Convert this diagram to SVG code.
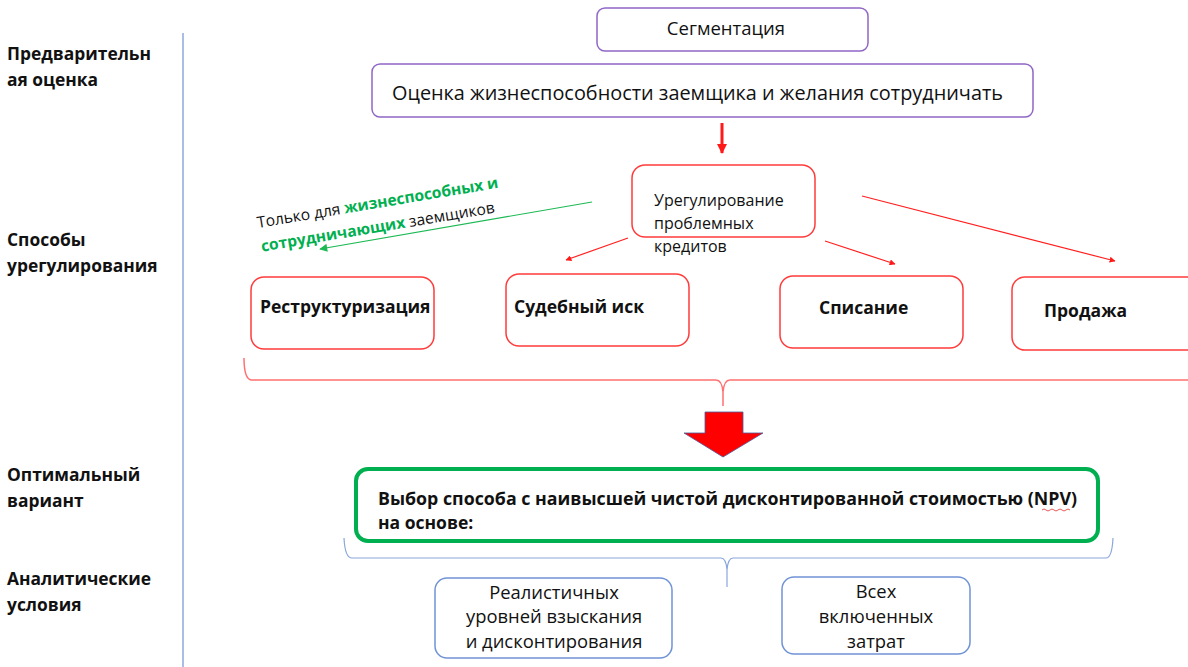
<svg xmlns="http://www.w3.org/2000/svg" width="1188" height="667" viewBox="0 0 1188 667">
<style>
text{font-family:"Open Sans","Liberation Sans",sans-serif;fill:#111}
.lbl{font-weight:bold;font-size:17.4px}
.pur{fill:#fff;stroke:#9067c6;stroke-width:1.5}
.red{fill:#fff;stroke:#ff3b3b;stroke-width:1.5}
.blu{fill:#fff;stroke:#7093d6;stroke-width:1.5}
.opt{font-weight:bold;font-size:17.5px}
.rl{stroke:#ff2020;stroke-width:1.2;fill:none}
.bt{font-size:18.4px;text-anchor:middle}
.ur{font-size:16px}
</style>
<defs>
<marker id="ah" viewBox="0 0 10 10" refX="9" refY="5" markerWidth="6" markerHeight="6" orient="auto" markerUnits="userSpaceOnUse">
<path d="M0,0 L10,5 L0,10 z" fill="#ff1a1a"/>
</marker>
<marker id="ahr" viewBox="0 0 10 10" refX="9" refY="5" markerWidth="14" markerHeight="10" orient="auto" markerUnits="userSpaceOnUse">
<path d="M0,0 L10,5 L0,10 z" fill="#ff1a1a"/>
</marker>
<marker id="ahg" viewBox="0 0 10 10" refX="9" refY="5" markerWidth="9" markerHeight="8" orient="auto" markerUnits="userSpaceOnUse">
<path d="M0,0 L10,5 L0,10 z" fill="#1db954"/>
</marker>
</defs>
<rect width="1188" height="667" fill="#fff"/>
<line x1="183" y1="33" x2="183" y2="667" stroke="#7093d6" stroke-width="1.2"/>
<g id="labels">
<text class="lbl" x="7" y="60">Предварительн</text>
<text class="lbl" x="7" y="86">ая оценка</text>
<text class="lbl" x="7" y="246">Способы</text>
<text class="lbl" x="7" y="272">урегулирования</text>
<text class="lbl" x="7" y="481">Оптимальный</text>
<text class="lbl" x="7" y="507">вариант</text>
<text class="lbl" x="7" y="585">Аналитические</text>
<text class="lbl" x="7" y="611">условия</text>
</g>
<g id="segm">
<rect class="pur" x="597" y="8" width="271" height="43" rx="8"/>
<text x="726" y="35" font-size="18.5" text-anchor="middle">Сегментация</text>
</g>
<g id="ocenka">
<rect class="pur" x="372" y="64" width="661" height="53" rx="8"/>
<text x="392" y="100" font-size="19.5" textLength="611" lengthAdjust="spacingAndGlyphs">Оценка жизнеспособности заемщика и желания сотрудничать</text>
</g>
<g id="uregul">
<rect class="red" x="632" y="165" width="183" height="72" rx="13"/>
<text class="ur" x="654" y="206">Урегулирование</text>
<text class="ur" x="654" y="229">проблемных</text>
<text class="ur" x="654" y="252">кредитов</text>
</g>
<g id="restr">
<rect class="red" x="251" y="277" width="183" height="72" rx="13"/>
<text class="opt" x="260" y="313">Реструктуризация</text>
</g>
<g id="sud">
<rect class="red" x="506" y="274" width="183" height="72" rx="13"/>
<text class="opt" x="514" y="313">Судебный иск</text>
</g>
<g id="spis">
<rect class="red" x="780" y="276" width="183" height="72" rx="13"/>
<text class="opt" x="819" y="314">Списание</text>
</g>
<g id="prod">
<rect class="red" x="1012" y="277" width="190" height="73" rx="13"/>
<text class="opt" x="1044" y="317">Продажа</text>
</g>
<g id="note" transform="rotate(-9.5 258 228)">
<text x="258" y="228" font-size="15.6">Только для <tspan fill="#00b050" font-weight="bold">жизнеспособных и</tspan></text>
<text x="258" y="252" font-size="15.6"><tspan fill="#00b050" font-weight="bold">сотрудничающих</tspan> заемщиков</text>
</g>
<g id="optimal">
<rect x="356" y="469" width="742" height="72" rx="12" fill="#fff" stroke="#00b050" stroke-width="4"/>
<text class="opt" x="378" y="505" textLength="699" lengthAdjust="spacingAndGlyphs">Выбор способа с наивысшей чистой дисконтированной стоимостью (NPV)</text>
<text class="opt" x="378" y="529">на основе:</text>
<path d="M1042,510 q2,-2 4,0 t4,0 t4,0 t4,0 t4,0 t4,0 t4,0" fill="none" stroke="#e03030" stroke-width="0.8"/>
</g>
<g id="real">
<rect class="blu" x="435" y="578" width="237" height="80" rx="12"/>
<text class="bt" x="554" y="599">Реалистичных</text>
<text class="bt" x="554" y="623">уровней взыскания</text>
<text class="bt" x="554" y="648">и дисконтирования</text>
</g>
<g id="vseh">
<rect class="blu" x="782" y="577" width="188" height="77" rx="12"/>
<text class="bt" x="876" y="598">Всех</text>
<text class="bt" x="876" y="623">включенных</text>
<text class="bt" x="876" y="648">затрат</text>
</g>
<g id="connectors">
<line x1="722" y1="123" x2="722" y2="153" stroke="#ff1a1a" stroke-width="3" marker-end="url(#ahr)"/>
<line class="rl" x1="628" y1="238" x2="566" y2="260" marker-end="url(#ah)"/>
<line class="rl" x1="825" y1="241" x2="895" y2="264" marker-end="url(#ah)"/>
<line class="rl" x1="862" y1="196" x2="1115" y2="261" marker-end="url(#ah)"/>
<line x1="592" y1="202" x2="320" y2="249" stroke="#1db954" stroke-width="1.2" marker-end="url(#ahg)"/>
<path d="M244,358 Q244,380 252,380 L716,380 Q722,380 723,392 L723,406 M723,392 Q724,380 730,380 L1188,380" fill="none" stroke="#ff7070" stroke-width="1.5"/>
<path d="M705,412 L743,412 L743,433 L763,433 L723,457 L684,433 L705,433 Z" fill="#ff0000" stroke="#4a5a9a" stroke-width="0.8"/>
<path d="M344,538 Q345,558 352,558 L721,558 Q726,558 727,570 L727,587 M727,570 Q728,558 733,558 L1106,558 Q1112,558 1113,538" fill="none" stroke="#8aa6dc" stroke-width="1.2"/>
</g>
</svg>
